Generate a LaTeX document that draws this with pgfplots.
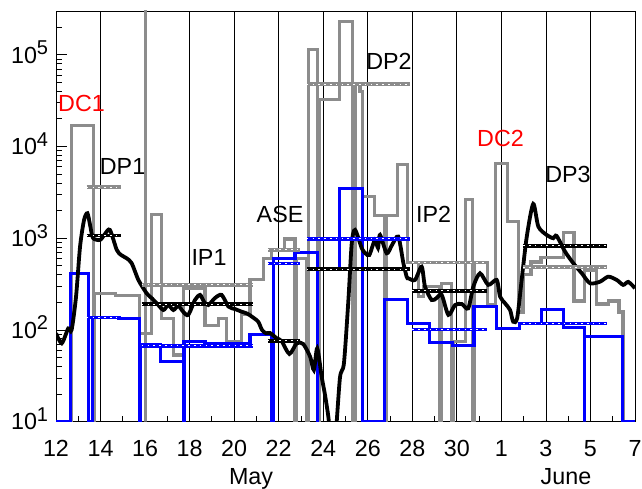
\documentclass[border=0pt]{standalone}
\usepackage{pgfplots}
\pgfplotsset{compat=1.18}
\usepackage{fontspec}
\setmainfont{Liberation Sans}
\definecolor{hgray}{RGB}{140,140,140}
\definecolor{hblue}{RGB}{0,0,255}
\newcommand\sx[1]{10\raisebox{8.3pt}{\fontsize{20}{20}\selectfont #1}}
\newcommand\avg[4]{%
  \addplot[#1, line width=3.6pt, forget plot] coordinates {(#2,#4) (#3,#4)};
  \addplot[white, line width=1pt, dash pattern=on 1.6pt off 4.2pt, forget plot] coordinates {(#2,#4) (#3,#4)};
}
\begin{document}
\begin{tikzpicture}
\begin{axis}[
  scale only axis, width=579pt, height=410.7pt,
  xmin=12, xmax=38, ymode=log, ymin=10, ymax=3.0e5,
  axis line style={black, line width=0.8pt},
  xtick={12,14,...,38},
  xticklabels={12,14,16,18,20,22,24,26,28,30,1,3,5,7},
  minor xtick={13,15,...,37},
  ytick={10,100,1000,10000,100000},
  yticklabels={\sx{1},\sx{2},\sx{3},\sx{4},\sx{5}},
  minor ytick={20,30,40,50,60,70,80,90,200,300,400,500,600,700,800,900,2000,3000,4000,5000,6000,7000,8000,9000,20000,30000,40000,50000,60000,70000,80000,90000,200000},
  xtick pos=left, ytick pos=left,
  tick align=inside,
  major tick length=11pt, minor tick length=5.5pt,
  tick style={black, line width=0.8pt},
  xmajorgrids, major grid style={black, line width=0.8pt},
  ticklabel style={font=\fontsize{23.3}{28}\selectfont, inner sep=0pt},
  xticklabel style={anchor=base, yshift=-35pt},
  yticklabel style={anchor=base east, xshift=-7.7pt, yshift=-8.3pt},
]
% gray histogram
\addplot[hgray, line width=3.1pt] coordinates {
(12,10) (12.70,10) (12.70,16800) (13.67,16800) (13.67,10) (13.73,10) (13.73,251) (14.68,251) (14.68,237) (15.74,237) (15.74,92) (16.00,92) (16.00,10) (16.00,1e6) (16.00,92) (16.30,92) (16.30,1827) (16.75,1827) (16.75,134) (17.27,134) (17.27,53.4) (17.72,53.4) (17.72,280) (18.69,280) (18.69,113) (19.29,113) (19.29,134) (19.67,134) (19.67,74.5) (20.34,74.5) (20.34,146) (20.71,146) (20.71,351) (21.31,351) (21.31,605) (21.69,605) (21.69,745) (22.28,745) (22.28,982) (22.73,982) (22.73,10) (22.81,10) (22.81,605) (23.26,605) (23.26,10) (23.32,10) (23.32,113000) (23.73,113000) (23.73,10) (23.85,10) (23.85,32200) (24.75,32200) (24.75,230000) (25.32,230000) (25.32,10) (25.43,10) (25.43,47000) (25.65,47000) (25.65,39400) (25.77,39400) (25.77,2843) (26.29,2843) (26.29,1750) (26.77,1750) (26.77,10) (26.85,10) (26.85,1750) (27.33,1750) (27.33,6300) (27.77,6300) (27.77,538) (28.27,538) (28.27,231) (28.49,231) (28.49,297) (29.24,297) (29.24,10) (29.32,10) (29.32,323) (29.77,323) (29.77,10) (29.84,10) (29.84,74.5) (30.37,74.5) (30.37,2617) (30.71,2617) (30.71,10) (30.77,10) (30.77,542) (31.37,542) (31.37,187) (31.74,187) (31.74,6577) (32.27,6577) (32.27,1517) (32.75,1517) (32.75,157) (32.97,157) (32.97,398) (33.33,398) (33.33,551) (33.78,551) (33.78,610) (34.78,610) (34.78,1142) (35.26,1142) (35.26,207) (35.75,207) (35.75,440) (36.29,440) (36.29,192) (36.80,192) (36.80,207) (37.28,207) (37.28,157) (37.46,157) (37.46,10) (38,10)
};
% blue histogram
\addplot[hblue, line width=3.1pt] coordinates {
(12,10) (12.66,10) (12.66,415) (13.47,415) (13.47,10) (13.63,10) (13.63,137) (14.83,137) (14.83,133) (15.74,133) (15.74,10) (15.79,10) (15.79,69.8) (16.71,69.8) (16.71,45.1) (17.72,45.1) (17.72,10) (17.75,10) (17.75,74.5) (18.69,74.5) (18.69,70.4) (20.71,70.4) (20.71,89.8) (21.70,89.8) (21.70,10) (21.77,10) (21.77,605) (22.73,605) (22.73,704) (23.76,704) (23.76,10)
};
\addplot[hblue, line width=3.1pt, forget plot] coordinates {
(24.75,463) (24.75,3510) (25.76,3510) (25.76,10) (26.77,10) (26.77,216) (27.77,216) (27.77,118) (28.76,118) (28.76,73.4) (29.81,73.4) (29.81,67.4) (30.77,67.4) (30.77,180) (31.79,180) (31.79,104) (32.80,104) (32.80,118) (33.81,118) (33.81,168) (34.78,168) (34.78,107) (35.72,107) (35.72,10) (35.72,84.6) (37.45,84.6) (37.45,10) (38,10)
};
% black smoothed curve
\addplot[black, line width=3.8pt, smooth, tension=0.45] coordinates {
(12.00,92) (12.26,71.6) (12.55,104) (12.70,100) (12.90,231) (13.08,810) (13.26,1583) (13.41,1873) (13.53,1396) (13.66,1008) (13.98,958) (14.20,1114) (14.42,1232) (14.73,745) (14.92,657) (15.17,605) (15.40,534) (15.70,351) (16.07,251) (16.30,222) (16.52,196) (16.82,165) (17.04,187) (17.27,165) (17.49,183) (17.72,157) (17.94,146) (18.24,212) (18.47,241) (18.65,202) (18.84,187) (19.14,223) (19.44,241) (19.74,180) (20.04,169) (20.34,158) (20.58,151) (20.79,140) (21.08,123) (21.25,100) (21.43,92) (21.61,92.7) (21.91,81.2) (22.13,75.9) (22.48,54.8) (22.81,71.6) (23.10,70.4) (23.41,51.2) (23.58,36.6) (23.73,63.2) (23.93,30.9) (24.08,19.6) (24.23,11.3) (24.35,6) (24.53,6) (24.75,30) (24.93,43.4) (25.13,212) (25.28,882) (25.43,1232) (25.73,778) (25.88,691) (26.07,657) (26.32,958) (26.46,784) (26.55,1087) (26.85,686) (27.09,845) (27.37,1041) (27.60,534) (27.75,378) (27.82,366) (28.12,351) (28.42,490) (28.57,297) (28.87,212) (29.09,223) (29.32,241) (29.62,146) (29.92,187) (30.22,192) (30.51,172) (30.74,297) (31.04,415) (31.41,310) (31.79,351) (31.94,231) (32.16,196) (32.39,165) (32.53,123) (32.71,135) (32.91,351) (33.14,1041) (33.43,2366) (33.66,1338) (34.03,1087) (34.33,1000) (34.48,1060) (34.86,714) (35.23,534) (35.61,415) (35.98,323) (36.43,336) (36.80,381) (37.18,351) (37.47,310) (37.70,334) (38.00,285)
};
% period averages: gray
\avg{hgray}{13.38}{14.92}{3600}
\avg{hgray}{15.85}{20.86}{310}
\avg{hgray}{21.51}{22.96}{745}
\avg{hgray}{23.26}{27.90}{47800}
\avg{hgray}{28.00}{31.37}{542}
\avg{hgray}{32.98}{36.73}{483}
% period averages: black
\avg{black}{13.38}{14.92}{1068}
\avg{black}{15.85}{20.86}{191}
\avg{black}{21.51}{22.96}{75.9}
\avg{black}{23.26}{27.90}{459}
\avg{black}{28.00}{31.37}{266}
\avg{black}{32.98}{36.73}{824}
% period averages: blue
\avg{hblue}{13.38}{14.92}{137}
\avg{hblue}{15.85}{20.86}{66.9}
\avg{hblue}{21.51}{22.96}{528}
\avg{hblue}{23.26}{27.90}{982}
\avg{hblue}{28.00}{31.37}{101}
\avg{hblue}{32.98}{36.73}{118}
% labels
\begin{scope}[every node/.style={font=\fontsize{23.3}{28}\selectfont, inner sep=0pt, anchor=center}]
\node[red] at (axis cs:13.145,29660) {DC1};
\node at (axis cs:14.99,5993) {DP1};
\node at (axis cs:18.87,610) {IP1};
\node at (axis cs:22.06,1808) {ASE};
\node at (axis cs:26.95,84300) {DP2};
\node at (axis cs:28.96,1827) {IP2};
\node[red] at (axis cs:31.96,12320) {DC2};
\node at (axis cs:34.99,4900) {DP3};
\end{scope}
\coordinate (maypos) at (axis cs:20.76,10);
\coordinate (junepos) at (axis cs:34.90,10);
\end{axis}
\node[anchor=base, inner sep=0pt, font=\fontsize{23.3}{28}\selectfont] at ([yshift=-62.6pt]maypos) {May};
\node[anchor=base, inner sep=0pt, font=\fontsize{23.3}{28}\selectfont] at ([yshift=-62.6pt]junepos) {June};
\pgfresetboundingbox
\path[use as bounding box] ([shift={(-56pt,-67.3pt)}]current axis.south west) rectangle ([shift={(7pt,11pt)}]current axis.north east);
\end{tikzpicture}
\end{document}
